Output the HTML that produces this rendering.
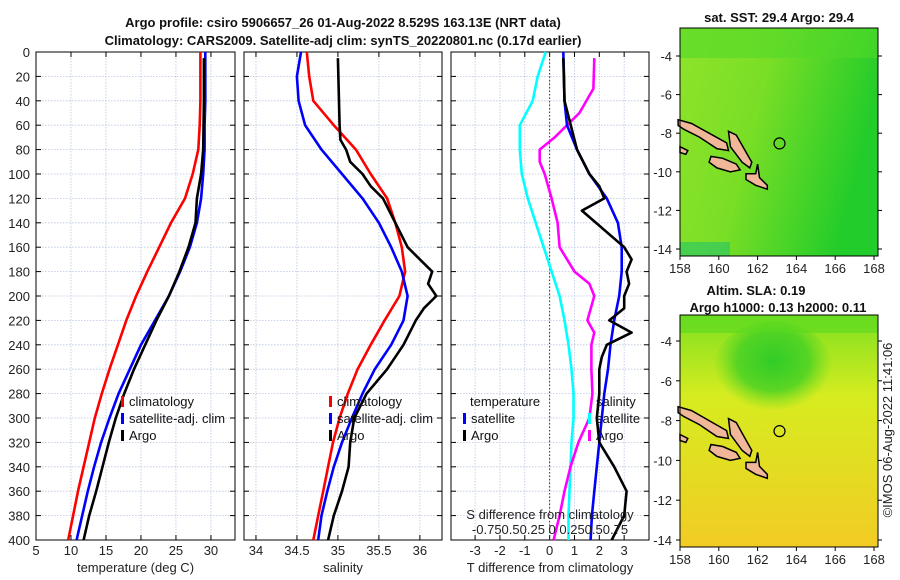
<!DOCTYPE html>
<html><head><meta charset="utf-8"><style>
body{margin:0;background:#fff;}
svg{display:block;font-family:"Liberation Sans",sans-serif;}
</style></head><body>
<svg id="chart" width="900" height="580" viewBox="0 0 900 580" xmlns="http://www.w3.org/2000/svg">
<defs>
<linearGradient id="sstg" x1="0" y1="0" x2="1" y2="0.3"><stop offset="0" stop-color="#8ee42a"/><stop offset="0.45" stop-color="#7ade26"/><stop offset="1" stop-color="#22cc2a"/></linearGradient>
<linearGradient id="slag" x1="0" y1="0" x2="0" y2="1"><stop offset="0" stop-color="#7fe020"/><stop offset="0.35" stop-color="#d6ec20"/><stop offset="1" stop-color="#f2cc24"/></linearGradient>
<radialGradient id="slablob" cx="0.5" cy="0.4" r="0.5"><stop offset="0" stop-color="#30cc28"/><stop offset="0.6" stop-color="#40d024" stop-opacity="0.8"/><stop offset="1" stop-color="#60d820" stop-opacity="0"/></radialGradient>
</defs>
<g id="g"></g>
</svg>
<script>
// ---- data ----
const depthTicks=[0,20,40,60,80,100,120,140,160,180,200,220,240,260,280,300,320,340,360,380,400];
const tempTicks=[5,10,15,20,25,30];
const salTicks=[34,34.5,35,35.5,36];
const tdiffTicks=[-3,-2,-1,0,1,2,3];
const lonTicks=[158,160,162,164,166,168];
const latTicks=[-4,-6,-8,-10,-12,-14];
const depths=[0,20,40,60,80,100,120,140,160,180,200,220,240,260,280,300,320,340,360,380,400];
const tempClim=[28.5,28.5,28.5,28.4,28.2,27.4,26.3,24.3,22.6,20.9,19.3,17.9,16.7,15.5,14.4,13.4,12.6,11.8,11.0,10.3,9.6];
const tempSat=[29.2,29.2,29.2,29.1,29.1,28.9,28.6,28.0,27.0,25.6,24.0,22.0,20.0,18.4,16.8,15.5,14.3,13.3,12.4,11.6,10.8];
const argoDepths=[5,40,80,100,120,140,160,180,200,220,240,260,280,300,320,340,360,380,400];
const tempArgo=[29.0,29.0,28.9,28.6,28.0,27.8,26.8,25.5,24.0,22.2,20.6,19.0,17.6,16.4,15.4,14.5,13.6,12.6,11.8];
const salClim=[34.62,34.65,34.7,34.95,35.22,35.4,35.6,35.7,35.78,35.82,35.75,35.57,35.4,35.24,35.12,35.02,34.94,34.88,34.82,34.76,34.7];
const salSat=[34.55,34.5,34.52,34.6,34.8,35.05,35.3,35.5,35.65,35.78,35.85,35.8,35.65,35.45,35.3,35.17,35.05,34.95,34.87,34.8,34.76];
const salArgoDepths=[5,60,72,80,90,100,110,120,140,160,170,180,190,200,210,220,240,260,280,300,320,340,360,380,400];
const salArgo=[35.0,35.02,35.03,35.1,35.15,35.3,35.4,35.55,35.7,35.85,36.0,36.15,36.1,36.2,36.05,35.95,35.8,35.6,35.35,35.2,35.15,35.13,35.05,34.95,34.88];
const tdiffSat=[0.55,0.58,0.6,0.7,1.1,1.6,2.3,2.75,2.9,2.9,2.8,2.6,2.45,2.35,2.2,2.1,2.0,1.9,1.8,1.7,1.65];
const tdiffArgoDepths=[5,40,80,100,110,120,130,160,170,180,190,200,210,220,230,240,250,260,280,300,320,340,360,380,400];
const tdiffArgo=[0.55,0.6,1.1,1.6,2.0,2.2,1.3,3.0,3.3,3.1,3.2,3.0,3.0,2.4,3.3,2.3,2.1,2.0,2.0,1.9,2.0,2.6,3.1,3.0,2.5];
const sdiffArgoDepths=[5,30,50,70,80,90,100,120,140,160,180,190,200,220,230,240,260,280,300,320,340,360,380,400];
const sdiffArgo=[0.45,0.44,0.3,0.05,-0.1,-0.1,-0.05,0.02,0.08,0.1,0.25,0.4,0.45,0.38,0.45,0.42,0.42,0.43,0.4,0.29,0.21,0.15,0.1,0.04];
const sdiffSat=[-0.04,-0.12,-0.17,-0.3,-0.3,-0.28,-0.22,-0.14,-0.06,0.02,0.1,0.15,0.19,0.22,0.24,0.24,0.22,0.21,0.2,0.19,0.19];
// ---- helpers ----
const NS="http://www.w3.org/2000/svg";
const G=document.getElementById('g');
function el(t,a,p){const e=document.createElementNS(NS,t);for(const k in a)e.setAttribute(k,a[k]);(p||G).appendChild(e);return e;}
function txt(s,x,y,a){const e=el('text',Object.assign({x:x,y:y,'font-size':13,fill:'#222'},a||{}));e.textContent=s;return e;}
const Y0=52,Y1=540;
const yD=d=>Y0+d/400*(Y1-Y0);
const panels=[
 {name:'temperature',x0:36,x1:235,v0:5,v1:33.44,ticks:tempTicks,label:'temperature (deg C)'},
 {name:'salinity',x0:244,x1:442,v0:33.854,v1:36.27,ticks:salTicks,label:'salinity'},
 {name:'difference',x0:451,x1:649,v0:-3.97,v1:4.0,ticks:tdiffTicks,label:'T difference from climatology'}];
panels.forEach(p=>{p.sx=v=>p.x0+(v-p.v0)/(p.v1-p.v0)*(p.x1-p.x0);});
panels.forEach((p,i)=>{
  const grp=el('g',{});
  
  
  depthTicks.forEach(d=>{el('line',{x1:p.x0,x2:p.x1,y1:yD(d),y2:yD(d),stroke:'#b8c4e0','stroke-width':0.8,'stroke-dasharray':'1.5,1.5'},grp);
    el('line',{x1:p.x0,x2:p.x0+5,y1:yD(d),y2:yD(d),stroke:'#000'},grp);el('line',{x1:p.x1,x2:p.x1-5,y1:yD(d),y2:yD(d),stroke:'#000'},grp);});
  p.ticks.forEach(t=>{const x=p.sx(t);el('line',{x1:x,x2:x,y1:Y0,y2:Y1,stroke:'#b8c4e0','stroke-width':0.8,'stroke-dasharray':'1.5,1.5'},grp);
    el('line',{x1:x,x2:x,y1:Y1,y2:Y1-5,stroke:'#000'},grp);el('line',{x1:x,x2:x,y1:Y0,y2:Y0+5,stroke:'#000'},grp);
    const tl=txt(String(t),x,Y1+15,{'text-anchor':'middle'});});
  el('rect',{x:p.x0,y:Y0,width:p.x1-p.x0,height:Y1-Y0,fill:'none',stroke:'#000','stroke-width':1},grp);
  const xl=txt(p.label,(p.x0+p.x1)/2,Y1+32,{'text-anchor':'middle'});
  
});
depthTicks.forEach(d=>{const t=txt(String(d),30,yD(d)+5,{'text-anchor':'end'});});
function line(p,ds,vs,color,name,f){const sx=f||p.sx;const pts=ds.map((d,i)=>sx(vs[i]).toFixed(1)+','+yD(d).toFixed(1)).join(' ');
  const e=el('polyline',{points:pts,fill:'none',stroke:color,'stroke-width':2.6,'stroke-linejoin':'round'});
  }
const P=panels;
line(P[0],depths,tempClim,'#ff0000','temp-climatology-line');
line(P[0],depths,tempSat,'#0000ff','temp-satellite-line');
line(P[0],argoDepths,tempArgo,'#000','temp-argo-line');
line(P[1],depths,salClim,'#ff0000','sal-climatology-line');
line(P[1],depths,salSat,'#0000ff','sal-satellite-line');
line(P[1],salArgoDepths,salArgo,'#000','sal-argo-line');
const zl=el('line',{x1:P[2].sx(0),x2:P[2].sx(0),y1:Y0,y2:Y1,stroke:'#333','stroke-width':1,'stroke-dasharray':'1.5,2'});

const sS=v=>P[2].sx(v*4);
line(P[2],depths,sdiffSat,'#00ffff','sdiff-satellite-line',sS);
line(P[2],sdiffArgoDepths,sdiffArgo,'#ff00ff','sdiff-argo-line',sS);
line(P[2],depths,tdiffSat,'#0000ff','tdiff-satellite-line');
line(P[2],tdiffArgoDepths,tdiffArgo,'#000','tdiff-argo-line');
function legend(x,y,items,name){const grp=el('g',{});
  items.forEach((it,i)=>{const yy=y+i*17;if(it[1])el('rect',{x:x,y:yy-9,width:3,height:11,fill:it[1]},grp);
    const t=el('text',{x:x+(it[1]?8:0),y:yy+1,'font-size':13,fill:'#111'},grp);t.textContent=it[0];});}
legend(121,405,[['climatology','#ff0000'],['satellite-adj. clim','#0000ff'],['Argo','#000']],'temp-legend');
legend(329,405,[['climatology','#ff0000'],['satellite-adj. clim','#0000ff'],['Argo','#000']],'sal-legend');
legend(470,405,[['temperature',null]],'tdiff-legend-title');
legend(463,422,[['satellite','#0000ff'],['Argo','#000']],'tdiff-legend');
legend(596,405,[['salinity',null]],'sdiff-legend-title');
legend(588,422,[['satellite','#00ffff'],['Argo','#ff00ff']],'sdiff-legend');
let t=txt('S difference from climatology',550,519,{'text-anchor':'middle'});
t=txt('-0.750.50.25 0 0.250.50.75',550,534,{'text-anchor':'middle'});
t=txt('Argo profile: csiro 5906657_26 01-Aug-2022 8.529S 163.13E (NRT data)',343,27,{'text-anchor':'middle','font-weight':'bold','fill':'#111'});
t=txt('Climatology: CARS2009. Satellite-adj clim: synTS_20220801.nc (0.17d earlier)',343,45,{'text-anchor':'middle','font-weight':'bold','fill':'#111'});
// maps
function map(y0,y1,lat4y,sc,fillId,name,extra){const x0=680,x1=878;const grp=el('g',{});
  const sx=l=>680+(l-158)*19.4, sy=la=>lat4y+(-4-la)*sc;
  el('rect',{x:x0,y:y0,width:x1-x0,height:y1-y0,fill:'url(#'+fillId+')'},grp);
  if(extra)extra(grp,sx,sy,y0,y1);
  const isl=[[[157.9,-7.3],[158.6,-7.5],[159.5,-8.0],[160.4,-8.5],[160.5,-8.9],[159.9,-8.8],[159.0,-8.2],[158.2,-7.8],[157.9,-7.6]],
   [[160.5,-7.9],[160.9,-8.1],[161.3,-8.8],[161.7,-9.5],[161.6,-9.8],[161.2,-9.5],[160.6,-8.7]],
   [[159.6,-9.2],[160.2,-9.3],[160.9,-9.6],[161.1,-9.9],[160.6,-10.0],[159.9,-9.8],[159.5,-9.5]],
   [[161.4,-10.1],[161.9,-10.1],[162.0,-9.6],[162.1,-10.3],[162.5,-10.7],[162.5,-10.9],[161.9,-10.7],[161.4,-10.4]],
   [[158.0,-8.7],[158.4,-8.9],[158.3,-9.1],[158.0,-9.0]]];
  isl.forEach(s=>{const e=el('polygon',{points:s.map(q=>sx(q[0]).toFixed(1)+','+sy(q[1]).toFixed(1)).join(' '),fill:'#f0b898',stroke:'#000','stroke-width':1.5},grp);});
  el('circle',{cx:sx(163.13),cy:sy(-8.529),r:5.5,fill:'none',stroke:'#000','stroke-width':1.2},grp);
  el('rect',{x:x0,y:y0,width:x1-x0,height:y1-y0,fill:'none',stroke:'#000'},grp);
  lonTicks.forEach(l=>{const x=sx(l);el('line',{x1:x,x2:x,y1:y1,y2:y1+4,stroke:'#000'},grp);const tt=el('text',{x:x,y:y1+17,'font-size':13,fill:'#222','text-anchor':'middle'},grp);tt.textContent=l;});
  latTicks.forEach(l=>{const y=sy(l);el('line',{x1:x0-4,x2:x0,y1:y,y2:y,stroke:'#000'},grp);el('line',{x1:x1,x2:x1+4,y1:y,y2:y,stroke:'#000'},grp);const tt=el('text',{x:x0-8,y:y+5,'font-size':13,fill:'#222','text-anchor':'end'},grp);tt.textContent=l;});
}
map(28,256,56,19.3,'sstg','sst-map',(g,sx,sy,y0,y1)=>{el('rect',{x:680,y:y0,width:198,height:30,fill:'#52d82a',opacity:0.6},g);el('rect',{x:680,y:y1-14,width:50,height:14,fill:'#30c860',opacity:0.7},g);});
map(315,547,341,19.9,'slag','sla-map',(g,sx,sy,y0,y1)=>{el('ellipse',{cx:sx(162.8),cy:sy(-5.5),rx:60,ry:50,fill:'url(#slablob)'},g);el('rect',{x:680,y:y0,width:198,height:18,fill:'#58d820',opacity:0.6},g);});
t=txt('sat. SST: 29.4 Argo: 29.4',779,22,{'text-anchor':'middle','font-weight':'bold','fill':'#111'});
t=txt('Altim. SLA: 0.19',756,295,{'text-anchor':'middle','font-weight':'bold','fill':'#111'});
t=txt('Argo h1000: 0.13 h2000: 0.11',778,312,{'text-anchor':'middle','font-weight':'bold','fill':'#111'});
t=txt('©IMOS 06-Aug-2022 11:41:06',0,0,{'text-anchor':'middle',transform:'translate(892,430) rotate(-90)'});
</script>
</body></html>
